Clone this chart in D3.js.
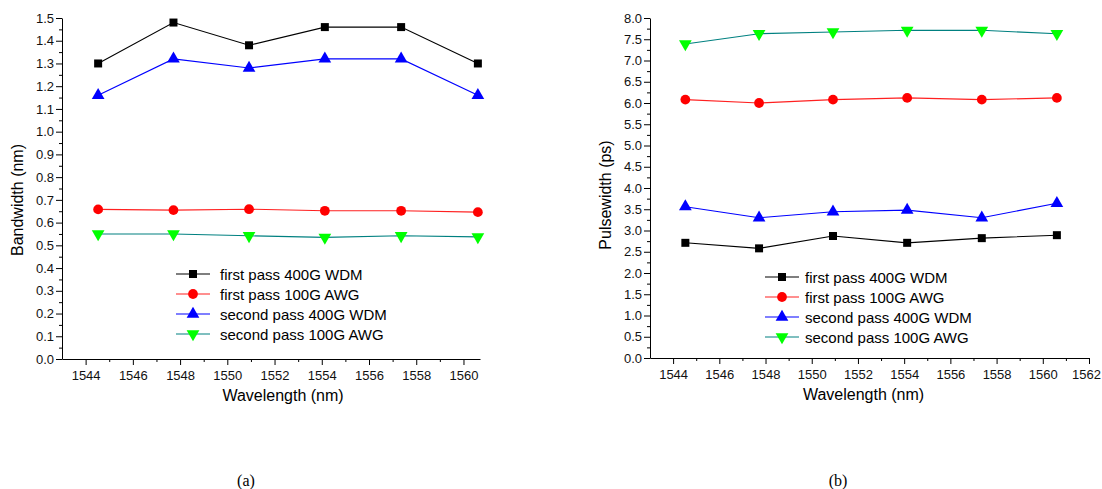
<!DOCTYPE html>
<html>
<head>
<meta charset="utf-8">
<script src="https://cdn.jsdelivr.net/npm/d3@7"></script>
<style>
  body { margin: 0; background: #fff; }
  svg { display: block; font-family: "Liberation Sans", Arial, sans-serif; }
  .axis path, .axis line { stroke: #000; }
  .axis text { fill: #111; font-size: 13px; }
</style>
</head>
<body>
<svg width="1102" height="489"></svg>
<script>
// wavelengths of the six channels (nm)
var wavelengths = [1544.53, 1547.72, 1550.92, 1554.13, 1557.36, 1560.61];

var seriesNames = ["first pass 400G WDM", "first pass 100G AWG", "second pass 400G WDM", "second pass 100G AWG"];

// (a) bandwidth, nm
var bwFirst400 = [1.30, 1.48, 1.38, 1.46, 1.46, 1.30];
var bwFirst100 = [0.658, 0.655, 0.659, 0.652, 0.652, 0.646];
var bwSecond400 = [1.16, 1.32, 1.28, 1.32, 1.32, 1.16];
var bwSecond100 = [0.550, 0.550, 0.542, 0.535, 0.542, 0.537];

// (b) pulsewidth, ps
var pwFirst400 = [2.71, 2.58, 2.87, 2.71, 2.82, 2.89];
var pwFirst100 = [6.08, 6.00, 6.08, 6.12, 6.08, 6.12];
var pwSecond400 = [3.56, 3.30, 3.44, 3.48, 3.30, 3.64];
var pwSecond100 = [7.39, 7.63, 7.67, 7.71, 7.71, 7.63];

var styles = [
  { line: "#000", fill: "#000", symbol: d3.symbolSquare, size: 64, rot: 0 },
  { line: "#ff2020", fill: "#ff0000", symbol: d3.symbolCircle, size: 75, rot: 0 },
  { line: "#0000ff", fill: "#0000ff", symbol: d3.symbolTriangle, size: 70, rot: 0 },
  { line: "#008080", fill: "#00ff00", symbol: d3.symbolTriangle, size: 70, rot: 180 }
];

var svg = d3.select("svg");

function panel(opts) {
  var g = svg.append("g");
  var x = d3.scaleLinear().domain(opts.xDomain).range([opts.left, opts.right]);
  var y = d3.scaleLinear().domain(opts.yDomain).range([opts.bottom, opts.top]);

  // minor ticks
  g.append("g").attr("class", "axis")
    .attr("transform", "translate(0," + opts.bottom + ")")
    .call(d3.axisBottom(x).tickValues(opts.xMinor).tickSize(3).tickFormat(""))
    .select(".domain").remove();
  g.append("g").attr("class", "axis")
    .attr("transform", "translate(" + opts.left + ",0)")
    .call(d3.axisLeft(y).tickValues(opts.yMinor).tickSize(3).tickFormat(""))
    .select(".domain").remove();

  var xa = g.append("g").attr("class", "axis")
    .attr("transform", "translate(0," + opts.bottom + ")")
    .call(d3.axisBottom(x).tickValues(opts.xTicks).tickSize(6).tickSizeOuter(0).tickPadding(6).tickFormat(d3.format("d")));
  // keep the last label inside the page
  xa.selectAll(".tick text").filter(function (d) { return x(d) > 1080; }).attr("dx", -3);

  g.append("g").attr("class", "axis")
    .attr("transform", "translate(" + opts.left + ",0)")
    .call(d3.axisLeft(y).tickValues(opts.yTicks).tickSize(6).tickSizeOuter(0).tickPadding(2).tickFormat(d3.format(".1f")));

  g.append("text")
    .attr("x", (opts.left + opts.right) / 2 + opts.xTitleShift)
    .attr("y", opts.bottom + 42)
    .attr("text-anchor", "middle")
    .attr("font-size", 16)
    .text("Wavelength (nm)");
  g.append("text")
    .attr("transform", "translate(" + opts.yTitleX + "," + opts.yTitleY + ") rotate(-90)")
    .attr("text-anchor", "middle")
    .attr("font-size", 16)
    .text(opts.yTitle);

  var line = d3.line().x(function (d, i) { return x(wavelengths[i]); }).y(function (d) { return y(d); });

  opts.series.forEach(function (vals, k) {
    var st = styles[k];
    g.append("path").datum(vals)
      .attr("fill", "none")
      .attr("stroke", st.line)
      .attr("stroke-width", 1.1)
      .attr("d", line);
    g.selectAll(null).data(vals).enter().append("path")
      .attr("d", d3.symbol().type(st.symbol).size(st.size))
      .attr("fill", st.fill)
      .attr("transform", function (d, i) {
        return "translate(" + x(wavelengths[i]) + "," + y(d) + ") rotate(" + st.rot + ")";
      });
  });

  // legend
  var leg = g.append("g").attr("transform", "translate(" + opts.legX + "," + opts.legY + ")");
  seriesNames.forEach(function (name, k) {
    var st = styles[k];
    var row = leg.append("g").attr("transform", "translate(0," + k * 20 + ")");
    row.append("line").attr("x1", 0).attr("x2", 34).attr("stroke", st.line).attr("stroke-width", 1.2);
    row.append("path")
      .attr("d", d3.symbol().type(st.symbol).size(st.size))
      .attr("fill", st.fill)
      .attr("transform", "translate(17,0) rotate(" + st.rot + ")");
    row.append("text").attr("x", opts.legText).attr("y", 5.5)
      .attr("font-size", 15)
      .text(name);
  });

  svg.append("text")
    .attr("x", opts.capX).attr("y", 486)
    .attr("text-anchor", "middle")
    .attr("font-family", "'Liberation Serif', 'Times New Roman', serif")
    .attr("font-size", 16)
    .text(opts.caption);
}

panel({
  left: 62, right: 480, top: 18, bottom: 359,
  xDomain: [1543, 1560.7],
  xTicks: d3.range(1544, 1561, 2),
  xMinor: d3.range(1545, 1561, 2),
  yDomain: [0, 1.5],
  yTicks: d3.range(0, 16).map(function (i) { return i / 10; }),
  yMinor: d3.range(0, 15).map(function (i) { return i / 10 + 0.05; }),
  yTitle: "Bandwidth (nm)", yTitleX: 23, yTitleY: 200,
  xTitleShift: 12,
  series: [bwFirst400, bwFirst100, bwSecond400, bwSecond100],
  legX: 176, legY: 274, legText: 44,
  capX: 246, caption: "(a)"
});

panel({
  left: 650, right: 1089, top: 18, bottom: 358,
  xDomain: [1543, 1562],
  xTicks: d3.range(1544, 1563, 2),
  xMinor: d3.range(1545, 1562, 2),
  yDomain: [0, 8],
  yTicks: d3.range(0, 17).map(function (i) { return i / 2; }),
  yMinor: d3.range(0, 16).map(function (i) { return i / 2 + 0.25; }),
  yTitle: "Pulsewidth (ps)", yTitleX: 611, yTitleY: 195,
  xTitleShift: -6,
  series: [pwFirst400, pwFirst100, pwSecond400, pwSecond100],
  legX: 765, legY: 277, legText: 40,
  capX: 838, caption: "(b)"
});
</script>
</body>
</html>
